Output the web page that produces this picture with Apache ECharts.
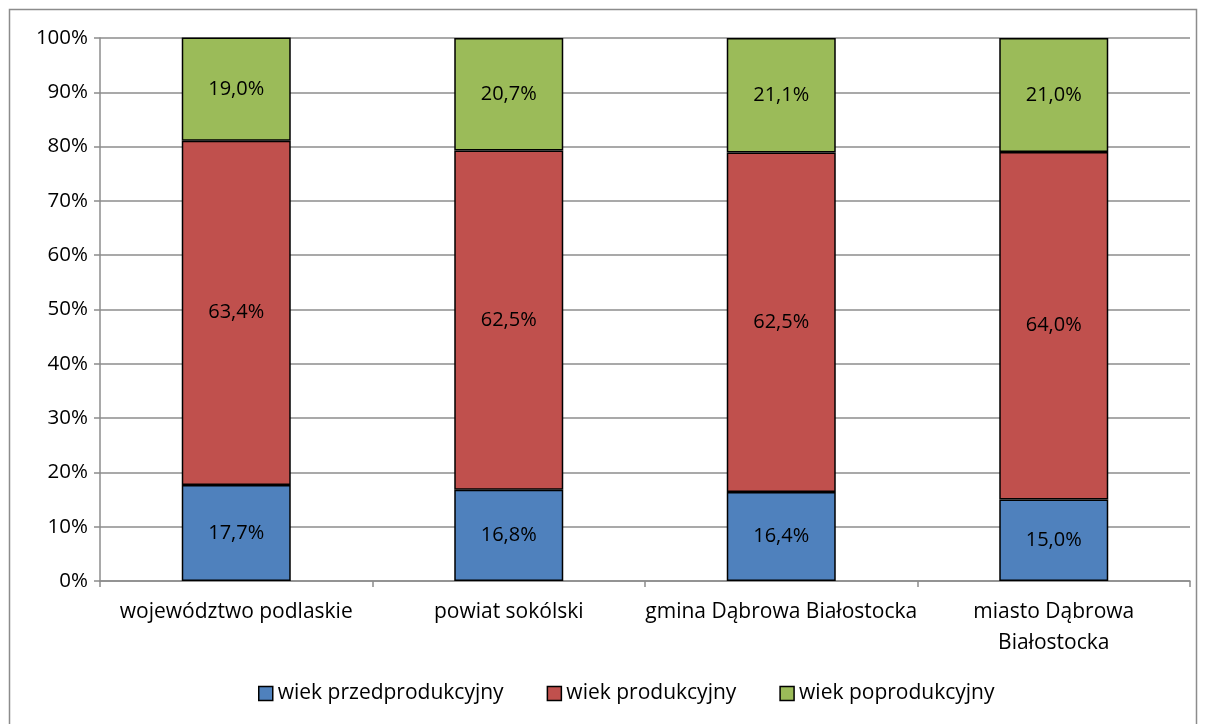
<!DOCTYPE html>
<html>
<head>
<meta charset="utf-8">
<script src="https://cdn.jsdelivr.net/npm/echarts@6/dist/echarts.min.js"></script>
<style>
  html, body { margin:0; padding:0; background:#fff; }
  #chart { width:1206px; height:724px; }
</style>
</head>
<body>
<div id="chart"></div>
<script>
const categories = ['województwo podlaskie', 'powiat sokólski', 'gmina Dąbrowa Białostocka', 'miasto Dąbrowa\nBiałostocka'];
const przedprodukcyjny = [17.7, 16.8, 16.4, 15.0];
const produkcyjny = [63.4, 62.5, 62.5, 64.0];
const poprodukcyjny = [19.0, 20.7, 21.1, 21.0];
const seriesNames = ['wiek przedprodukcyjny', 'wiek produkcyjny', 'wiek poprodukcyjny'];
const colors = ['#4F81BD', '#C0504D', '#9BBB59'];
const font = '"Open Sans", Lato, sans-serif';

const chart = echarts.init(document.getElementById('chart'));

const fmt = p => p.value.toFixed(1).replace('.', ',') + '%';

const makeSeries = (name, data, color) => ({
    type: 'bar',
    name: name,
    stack: 'total',
    data: data,
    barWidth: '40%',
    itemStyle: { color: color, borderColor: '#000', borderWidth: 1.5 },
    label: {
        show: true,
        position: 'inside',
        formatter: fmt,
        color: '#000',
        fontSize: 20,
        fontFamily: font
    }
});

chart.setOption({
    animation: false,
    color: colors,
    graphic: [{
        type: 'rect',
        shape: { x: 9.5, y: 9.5, width: 1187, height: 740 },
        style: { fill: 'none', stroke: '#8c8c8c', lineWidth: 1.5 },
        silent: true
    }],
    grid: { left: 100, right: 16, top: 38, bottom: 143 },
    legend: {
        bottom: 15,
        left: 253,
        itemWidth: 14,
        itemHeight: 14,
        itemGap: 43,
        icon: 'rect',
        itemStyle: { borderColor: '#000', borderWidth: 1.5 },
        textStyle: { fontSize: 21, color: '#000', fontFamily: font },
        data: seriesNames
    },
    xAxis: {
        type: 'category',
        data: categories,
        axisLine: { lineStyle: { color: '#8c8c8c', width: 1.5 } },
        axisTick: { show: true, length: 6, lineStyle: { color: '#8c8c8c', width: 1.5 } },
        axisLabel: { color: '#000', fontSize: 21, fontFamily: font, margin: 16, lineHeight: 31, interval: 0 }
    },
    yAxis: {
        type: 'value',
        min: 0,
        max: 100,
        interval: 10,
        axisLine: { show: true, lineStyle: { color: '#8c8c8c', width: 1.5 } },
        axisTick: { show: true, length: 6, lineStyle: { color: '#8c8c8c', width: 1.5 } },
        axisLabel: { color: '#000', fontSize: 20.5, fontFamily: font, margin: 12, formatter: '{value}%' },
        splitLine: { lineStyle: { color: '#8c8c8c', width: 1.5 } }
    },
    series: [
        makeSeries(seriesNames[0], przedprodukcyjny, colors[0]),
        makeSeries(seriesNames[1], produkcyjny, colors[1]),
        makeSeries(seriesNames[2], poprodukcyjny, colors[2])
    ]
});
</script>
</body>
</html>
